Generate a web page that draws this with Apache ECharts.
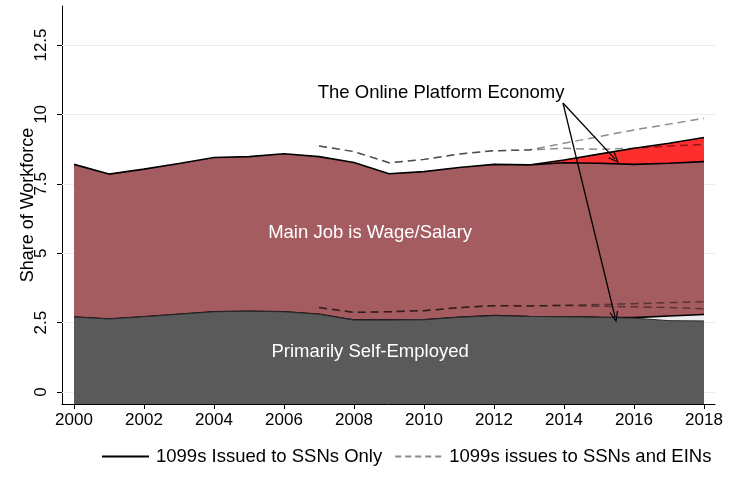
<!DOCTYPE html>
<html>
<head>
<meta charset="utf-8">
<script src="https://cdn.jsdelivr.net/npm/echarts@6/dist/echarts.min.js"></script>
<style>
	html, body { margin: 0; padding: 0; background: #fff; }
	#chart { width: 731px; height: 495px; }
</style>
</head>
<body>
<div id="chart"></div>
<script>
//数据
var years = [2000, 2001, 2002, 2003, 2004, 2005, 2006, 2007, 2008, 2009, 2010, 2011, 2012, 2013, 2014, 2015, 2016, 2017, 2018];
var xTicks = [2000, 2002, 2004, 2006, 2008, 2010, 2012, 2014, 2016, 2018];
var yTicks = [0, 2.5, 5, 7.5, 10, 12.5];
// SSN only
var selfCore = [2.70, 2.63, 2.71, 2.80, 2.89, 2.91, 2.89, 2.80, 2.59, 2.59, 2.60, 2.69, 2.75, 2.72, 2.71, 2.69, 2.66, 2.57, 2.56];
var selfTotal = [2.70, 2.63, 2.71, 2.80, 2.89, 2.91, 2.89, 2.80, 2.59, 2.59, 2.60, 2.69, 2.75, 2.72, 2.71, 2.69, 2.68, 2.74, 2.79];
var wageTop = [8.20, 7.85, 8.03, 8.23, 8.45, 8.48, 8.58, 8.48, 8.27, 7.86, 7.94, 8.09, 8.20, 8.18, 8.26, 8.24, 8.20, 8.24, 8.30];
var platformTop = [null, null, null, null, null, null, null, null, null, null, null, null, null, 8.18, 8.36, 8.57, 8.78, 8.96, 9.17];
// SSN and EIN
var einWageTop = [null, null, null, null, null, null, null, 8.86, 8.66, 8.26, 8.38, 8.57, 8.69, 8.72, 8.96, 9.20, 9.44, 9.65, 9.86];
var einWageCore = [null, null, null, null, null, null, null, 8.86, 8.66, 8.26, 8.38, 8.57, 8.69, 8.72, 8.78, 8.74, 8.78, 8.86, 8.92];
var einSelfTop = [null, null, null, null, null, null, null, 3.04, 2.87, 2.89, 2.93, 3.04, 3.11, 3.10, 3.12, 3.15, 3.18, 3.22, 3.25];
var einSelfCore = [null, null, null, null, null, null, null, 3.04, 2.87, 2.89, 2.93, 3.04, 3.11, 3.10, 3.12, 3.09, 3.07, 3.04, 3.00];

var legendNames = ['1099s Issued to SSNs Only', '1099s issues to SSNs and EINs'];
var font = "'Liberation Sans', Arial, Helvetica, sans-serif";
var arrowHead = 'path://M5,0 L10,12 L8.6,12 L5,3.2 L1.4,12 L0,12 Z';

//把年份和数值配对
function pairs (vals) {
	var out = [];
	for (var i = 0; i < years.length; i++) {
		out.push([years[i], vals[i]]);
	}
	return out;
}

function areaSeries (name, vals, fill, lineColor, lineWidth, z) {
	return {
		name: name,
		type: 'line',
		data: pairs(vals),
		symbol: 'none',
		z: z,
		lineStyle: { color: lineColor, width: lineWidth },
		areaStyle: { color: fill, opacity: 1, origin: 'start' },
		silent: true
	};
}

function dashSeries (name, vals) {
	return {
		name: name,
		type: 'line',
		data: pairs(vals),
		symbol: 'none',
		z: 6,
		lineStyle: { color: 'rgba(0,0,0,0.45)', width: 1.5, type: [8, 5] },
		silent: true
	};
}

var gridLines = [];
for (var i = 0; i < yTicks.length; i++) {
	gridLines.push({ yAxis: yTicks[i] });
}

var myChart = echarts.init(document.getElementById('chart'), null, { renderer: 'canvas' });
var option = {
	animation: false,
	backgroundColor: '#fff',
	textStyle: { fontFamily: font },
	grid: { left: 62, right: 16, top: 6, bottom: 91 },
	legend: {
		data: legendNames,
		left: 96,
		top: 442,
		itemWidth: 47,
		itemHeight: 12,
		itemGap: 12,
		itemStyle: { opacity: 0, borderWidth: 0 },
		textStyle: { fontSize: 18.5, color: '#000', fontFamily: font, padding: [0, 0, 0, 2] },
		selectedMode: false
	},
	xAxis: {
		type: 'value',
		min: 1999.6571,
		max: 2018.3143,
		axisLine: { onZero: false, lineStyle: { color: '#000', width: 1 } },
		axisTick: { customValues: xTicks, length: 5, lineStyle: { color: '#000' } },
		axisLabel: {
			customValues: xTicks, fontSize: 17, color: '#000', margin: 8, fontFamily: font,
			formatter: function (v) { return String(v); }
		},
		splitLine: { show: false }
	},
	yAxis: {
		type: 'value',
		min: -0.4323,
		max: 13.905,
		name: 'Share of Workforce',
		nameLocation: 'middle',
		nameRotate: 90,
		nameGap: 25,
		nameMoveOverlap: false,
		nameTextStyle: { fontSize: 18, color: '#000', fontFamily: font },
		axisLine: { onZero: false, lineStyle: { color: '#000', width: 1 } },
		axisTick: { customValues: yTicks, length: 5, lineStyle: { color: '#000' } },
		axisLabel: {
			customValues: yTicks, rotate: 90, fontSize: 17, color: '#000', margin: 12, fontFamily: font,
			formatter: function (v) { return String(v); }
		},
		splitLine: { show: false }
	},
	series: [
		//网格线
		{
			name: 'grid',
			type: 'line',
			data: [],
			z: 1,
			silent: true,
			markLine: {
				z: 1,
				silent: true,
				symbol: 'none',
				label: { show: false },
				lineStyle: { color: '#e8eded', width: 1, type: 'solid' },
				data: gridLines
			}
		},
		areaSeries('platform', platformTop, '#ff2e2e', '#000', 1.6, 2),
		areaSeries('wage', wageTop, '#a45c60', '#000', 1.6, 3),
		areaSeries('selfTotal', selfTotal, '#ececec', '#000', 1.6, 4),
		areaSeries('selfCore', selfCore, '#5a5a5a', '#2a2a2a', 1, 5),
		dashSeries('einWageTop', einWageTop),
		dashSeries('einWageCore', einWageCore),
		dashSeries('einSelfTop', einSelfTop),
		dashSeries('einSelfCore', einSelfCore),
		//图例
		{ name: legendNames[0], type: 'line', data: [], symbol: 'none', symbolSize: 0, lineStyle: { color: '#000', width: 1.6 } },
		{ name: legendNames[1], type: 'line', data: [], symbol: 'none', symbolSize: 0, lineStyle: { color: '#8a8a8a', width: 1.5, type: [6, 4] } },
		//注释和箭头
		{
			name: 'notes',
			type: 'line',
			data: [],
			z: 20,
			silent: true,
			markLine: {
				z: 20,
				silent: true,
				symbol: ['none', arrowHead],
				symbolSize: [9, 11],
				label: { show: false },
				lineStyle: { color: '#000', width: 1.3, type: 'solid' },
				data: [
					[{ coord: [2013.97, 10.41] }, { coord: [2015.46, 8.39] }],
					[{ coord: [2013.97, 10.41] }, { coord: [2015.46, 2.70] }]
				]
			},
			markPoint: {
				z: 20,
				silent: true,
				symbol: 'circle',
				symbolSize: 0,
				label: { show: true, position: 'inside', formatter: '{b}', fontSize: 18.5, fontFamily: font },
				data: [
					{ name: 'The Online Platform Economy', coord: [2010.49, 10.77], label: { color: '#000' } },
					{ name: 'Main Job is Wage/Salary', coord: [2008.46, 5.73], label: { color: '#fff' } },
					{ name: 'Primarily Self-Employed', coord: [2008.46, 1.44], label: { color: '#fff' } }
				]
			}
		}
	]
};
myChart.setOption(option);
</script>
</body>
</html>
